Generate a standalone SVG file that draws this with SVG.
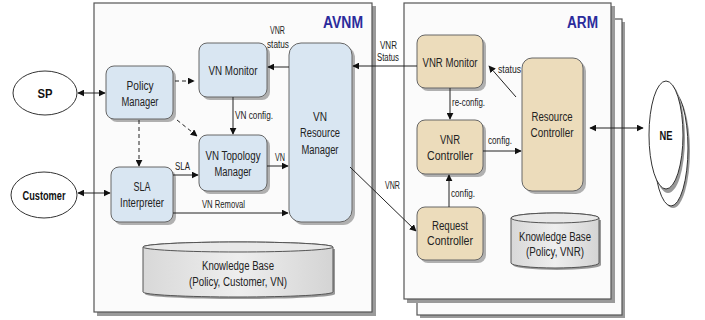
<svg xmlns="http://www.w3.org/2000/svg" width="705" height="320" viewBox="0 0 705 320">
<defs>
<marker id="ah" viewBox="0 0 10 10" refX="9" refY="5" markerWidth="7" markerHeight="7" orient="auto-start-reverse" markerUnits="userSpaceOnUse"><path d="M0,0 L10,5 L0,10 z" fill="#111"/></marker>
<linearGradient id="cyl" x1="0" y1="0" x2="1" y2="0"><stop offset="0" stop-color="#d8d8d8"/><stop offset="0.5" stop-color="#eeeeee"/><stop offset="1" stop-color="#d4d4d4"/></linearGradient>
</defs>
<style>
.cont{fill:#fbfbfb;stroke:#555;stroke-width:1.2}
.csh{fill:#9a9a9a}
.sh{fill:#b0b0b0}
.bn{fill:#d9e6f2;stroke:#666;stroke-width:1}
.tn{fill:#ecdcbb;stroke:#666;stroke-width:1}
.t{font-family:"Liberation Sans",Arial,sans-serif;font-size:12.5px;fill:#222;text-anchor:middle}
.l{font-family:"Liberation Sans",Arial,sans-serif;font-size:10px;fill:#222}
.b{font-family:"Liberation Sans",Arial,sans-serif;font-size:12.5px;font-weight:bold;fill:#111;text-anchor:middle}
.ttl{font-family:"Liberation Sans",Arial,sans-serif;font-size:16px;font-weight:bold;fill:#2b2b9c}
.el{fill:#fff;stroke:#333;stroke-width:1}
.ln{fill:none;stroke:#222;stroke-width:1}
.dl{fill:none;stroke:#222;stroke-width:1;stroke-dasharray:4,3}
.cy{fill:url(#cyl);stroke:#555;stroke-width:1}
</style>

<g id="avnm">
<rect class="csh" x="97" y="6" width="279" height="310"/>
<rect class="cont" x="94" y="3" width="278" height="309"/>
<text class="ttl" x="323" y="28" textLength="40" lengthAdjust="spacingAndGlyphs">AVNM</text>
</g>
<g id="arm">
<rect class="csh" x="420" y="22" width="205" height="296"/>
<rect class="cont" x="417" y="19" width="205" height="296"/>
<rect class="csh" x="407" y="6" width="208" height="297"/>
<rect class="cont" x="404" y="3" width="207" height="296"/>
<text class="ttl" x="567" y="28" textLength="31" lengthAdjust="spacingAndGlyphs">ARM</text>
</g>

<g id="sp"><ellipse class="el" cx="45" cy="93" rx="32" ry="22"/><text class="b" x="45" y="98" textLength="15" lengthAdjust="spacingAndGlyphs">SP</text></g>
<g id="customer"><ellipse class="el" cx="44" cy="195" rx="33" ry="23"/><text class="b" x="44" y="200" textLength="43" lengthAdjust="spacingAndGlyphs">Customer</text></g>
<g id="ne">
<ellipse cx="673" cy="151" rx="17" ry="57" fill="#999"/>
<ellipse class="el" cx="671" cy="148" rx="17" ry="58"/>
<ellipse cx="668" cy="138" rx="17" ry="55" fill="#999"/>
<ellipse class="el" cx="666" cy="135" rx="17" ry="54"/>
<text class="b" x="666" y="140" textLength="13" lengthAdjust="spacingAndGlyphs">NE</text>
</g>

<g id="policy-manager"><rect class="sh" x="109" y="69" width="67" height="53" rx="8"/><rect class="bn" x="106" y="66" width="67" height="53" rx="8"/><text class="t" x="140" y="90" textLength="27" lengthAdjust="spacingAndGlyphs">Policy</text><text class="t" x="140" y="106" textLength="37" lengthAdjust="spacingAndGlyphs">Manager</text></g>
<g id="vn-monitor"><rect class="sh" x="202" y="46" width="68" height="54" rx="8"/><rect class="bn" x="199" y="43" width="68" height="54" rx="8"/><text class="t" x="233" y="75" textLength="49" lengthAdjust="spacingAndGlyphs">VN Monitor</text></g>
<g id="vn-topology-manager"><rect class="sh" x="202" y="138" width="68" height="56" rx="8"/><rect class="bn" x="199" y="135" width="68" height="56" rx="8"/><text class="t" x="233" y="160" textLength="55" lengthAdjust="spacingAndGlyphs">VN Topology</text><text class="t" x="233" y="176" textLength="37" lengthAdjust="spacingAndGlyphs">Manager</text></g>
<g id="sla-interpreter"><rect class="sh" x="114" y="170" width="62" height="55" rx="8"/><rect class="bn" x="111" y="167" width="62" height="55" rx="8"/><text class="t" x="142" y="191" textLength="17" lengthAdjust="spacingAndGlyphs">SLA</text><text class="t" x="142" y="207" textLength="44" lengthAdjust="spacingAndGlyphs">Interpreter</text></g>
<g id="vn-resource-manager"><rect class="sh" x="292" y="46" width="63" height="179" rx="12"/><rect class="bn" x="289" y="43" width="63" height="179" rx="12"/><text class="t" x="320" y="121" textLength="14" lengthAdjust="spacingAndGlyphs">VN</text><text class="t" x="320" y="137" textLength="40" lengthAdjust="spacingAndGlyphs">Resource</text><text class="t" x="320" y="154" textLength="37" lengthAdjust="spacingAndGlyphs">Manager</text></g>
<g id="kb-avnm">
<path d="M143,247 L143,292 A95,5 0 0 0 333,292 L333,247" fill="#999" transform="translate(2,2)"/>
<path class="cy" d="M143,247 L143,292 A95,5 0 0 0 333,292 L333,247 A95,5 0 0 0 143,247 z"/>
<ellipse cx="238" cy="247" rx="95" ry="5" fill="#e8e8e8" stroke="#555" stroke-width="1"/>
<text class="t" x="238" y="270" textLength="72" lengthAdjust="spacingAndGlyphs">Knowledge Base</text><text class="t" x="238" y="286" textLength="98" lengthAdjust="spacingAndGlyphs">(Policy, Customer, VN)</text>
</g>

<g id="vnr-monitor"><rect class="sh" x="420" y="38" width="66" height="53" rx="8"/><rect class="tn" x="417" y="35" width="66" height="53" rx="8"/><text class="t" x="450" y="67" textLength="55" lengthAdjust="spacingAndGlyphs">VNR Monitor</text></g>
<g id="vnr-controller"><rect class="sh" x="420" y="123" width="66" height="54" rx="8"/><rect class="tn" x="417" y="120" width="66" height="54" rx="8"/><text class="t" x="450" y="144" textLength="20" lengthAdjust="spacingAndGlyphs">VNR</text><text class="t" x="450" y="160" textLength="46" lengthAdjust="spacingAndGlyphs">Controller</text></g>
<g id="request-controller"><rect class="sh" x="420" y="210" width="66" height="53" rx="8"/><rect class="tn" x="417" y="207" width="66" height="53" rx="8"/><text class="t" x="450" y="230" textLength="36" lengthAdjust="spacingAndGlyphs">Request</text><text class="t" x="450" y="245" textLength="46" lengthAdjust="spacingAndGlyphs">Controller</text></g>
<g id="resource-controller"><rect class="sh" x="525" y="61" width="61" height="133" rx="10"/><rect class="tn" x="522" y="58" width="61" height="133" rx="10"/><text class="t" x="552" y="121" textLength="41" lengthAdjust="spacingAndGlyphs">Resource</text><text class="t" x="552" y="137" textLength="43" lengthAdjust="spacingAndGlyphs">Controller</text></g>
<g id="kb-arm">
<path d="M511,218 L511,263 A44,5 0 0 0 599,263 L599,218" fill="#999" transform="translate(2,2)"/>
<path class="cy" d="M511,218 L511,263 A44,5 0 0 0 599,263 L599,218 A44,5 0 0 0 511,218 z"/>
<ellipse cx="555" cy="218" rx="44" ry="5" fill="#e8e8e8" stroke="#555" stroke-width="1"/>
<text class="t" x="555" y="241" textLength="72" lengthAdjust="spacingAndGlyphs">Knowledge Base</text><text class="t" x="555" y="256" textLength="58" lengthAdjust="spacingAndGlyphs">(Policy, VNR)</text>
</g>

<g id="connectors">
<line class="ln" x1="78" y1="93" x2="105" y2="93" marker-start="url(#ah)" marker-end="url(#ah)"/>
<line class="ln" x1="78" y1="193" x2="110" y2="193" marker-start="url(#ah)" marker-end="url(#ah)"/>
<line class="dl" x1="175" y1="81" x2="194" y2="81" marker-end="url(#ah)"/>
<line class="dl" x1="177" y1="120" x2="197" y2="136" marker-end="url(#ah)"/>
<line class="dl" x1="139" y1="120" x2="139" y2="166" marker-end="url(#ah)"/>
<line class="ln" x1="233" y1="97" x2="233" y2="134" marker-end="url(#ah)"/>
<text class="l" x="235" y="119" textLength="38" lengthAdjust="spacingAndGlyphs">VN config.</text>
<line class="ln" x1="289" y1="67" x2="268" y2="67" marker-end="url(#ah)"/>
<text class="l" x="270" y="34" textLength="15" lengthAdjust="spacingAndGlyphs">VNR</text><text class="l" x="267" y="48" textLength="22" lengthAdjust="spacingAndGlyphs">status</text>
<line class="ln" x1="173" y1="175" x2="198" y2="175" marker-end="url(#ah)"/>
<text class="l" x="175" y="170" textLength="15" lengthAdjust="spacingAndGlyphs">SLA</text>
<line class="ln" x1="267" y1="166" x2="288" y2="166" marker-end="url(#ah)"/>
<text class="l" x="275" y="161" font-size="9.5" textLength="10" lengthAdjust="spacingAndGlyphs">VN</text>
<line class="ln" x1="173" y1="213" x2="288" y2="213" marker-end="url(#ah)"/>
<text class="l" x="202" y="208" textLength="43" lengthAdjust="spacingAndGlyphs">VN Removal</text>
<line class="ln" x1="417" y1="66" x2="353" y2="66" marker-end="url(#ah)"/>
<text class="l" x="380" y="49" textLength="17" lengthAdjust="spacingAndGlyphs">VNR</text><text class="l" x="377" y="61" textLength="22" lengthAdjust="spacingAndGlyphs">Status</text>
<line class="ln" x1="350" y1="167" x2="416" y2="231" marker-end="url(#ah)"/>
<text class="l" x="385" y="189" textLength="15" lengthAdjust="spacingAndGlyphs">VNR</text>
<line class="ln" x1="516" y1="97" x2="489" y2="66" marker-end="url(#ah)"/>
<text class="l" x="498" y="73" textLength="23" lengthAdjust="spacingAndGlyphs">status</text>
<line class="ln" x1="450" y1="88" x2="450" y2="119" marker-end="url(#ah)"/>
<text class="l" x="452" y="106" textLength="33" lengthAdjust="spacingAndGlyphs">re-config.</text>
<line class="ln" x1="483" y1="151" x2="521" y2="151" marker-end="url(#ah)"/>
<text class="l" x="488" y="144" textLength="24" lengthAdjust="spacingAndGlyphs">config.</text>
<line class="ln" x1="449" y1="207" x2="449" y2="175" marker-end="url(#ah)"/>
<text class="l" x="451" y="197" textLength="24" lengthAdjust="spacingAndGlyphs">config.</text>
<line class="ln" x1="590" y1="128" x2="643" y2="128" marker-start="url(#ah)" marker-end="url(#ah)"/>
</g>
</svg>
